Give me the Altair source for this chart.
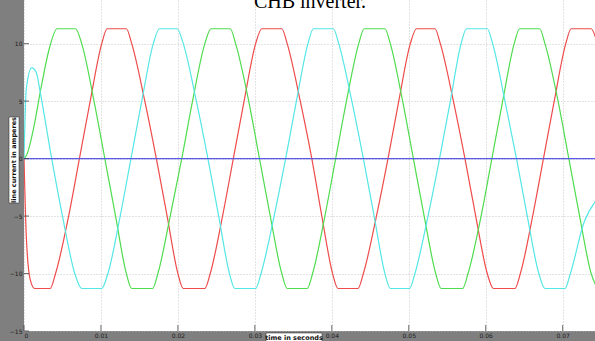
import altair as alt
import pandas as pd

# Phase currents of the CHB inverter (time in s, current in A)
t_red = [0, 0.0003, 0.0008, 0.0014, 0.0034, 0.0041, 0.0058, 0.0072, 0.0086, 0.0101, 0.0108,
         0.0133, 0.0140, 0.0157, 0.0172, 0.0186, 0.0200, 0.0207, 0.0235, 0.0242, 0.0258,
         0.0272, 0.0286, 0.0301, 0.0309, 0.0335, 0.0342, 0.0359, 0.0374, 0.0387, 0.0401,
         0.0408, 0.0434, 0.0441, 0.0458, 0.0473, 0.0487, 0.0502, 0.0510, 0.0534, 0.0541,
         0.0558, 0.0573, 0.0587, 0.0602, 0.0610, 0.0638, 0.0645, 0.0661, 0.0675, 0.0689,
         0.0704, 0.0711, 0.0737, 0.0745]
i_red = [0, -6.8, -10.5, -11.3, -11.3, -10, -5, 0, 5, 10, 11.3,
         11.3, 10, 5, 0, -5, -10, -11.3, -11.3, -10, -5,
         0, 5, 10, 11.3, 11.3, 10, 5, 0, -5, -10,
         -11.3, -11.3, -10, -5, 0, 5, 10, 11.3, 11.3, 10,
         5, 0, -5, -10, -11.3, -11.3, -10, -5, 0, 5,
         10, 11.3, 11.3, 10]

t_green = [0, 0.0004, 0.0012, 0.0022, 0.0033, 0.0043, 0.0067, 0.0075, 0.0091, 0.0105, 0.0119,
           0.0133, 0.0140, 0.0167, 0.0174, 0.0190, 0.0205, 0.0219, 0.0235, 0.0243, 0.0268,
           0.0275, 0.0292, 0.0306, 0.0320, 0.0335, 0.0342, 0.0368, 0.0375, 0.0391, 0.0405,
           0.0419, 0.0435, 0.0442, 0.0469, 0.0476, 0.0492, 0.0506, 0.0520, 0.0535, 0.0542,
           0.0570, 0.0577, 0.0594, 0.0608, 0.0622, 0.0637, 0.0644, 0.0670, 0.0677, 0.0694,
           0.0708, 0.0722, 0.0737, 0.0745]
i_green = [0, 0.4, 2.5, 6.1, 9.6, 11.3, 11.3, 10, 5, 0, -5,
           -10, -11.3, -11.3, -10, -5, 0, 5, 10, 11.3, 11.3,
           10, 5, 0, -5, -10, -11.3, -11.3, -10, -5, 0,
           5, 10, 11.3, 11.3, 10, 5, 0, -5, -10, -11.3,
           -11.3, -10, -5, 0, 5, 10, 11.3, 11.3, 10, 5,
           0, -5, -10, -11.3]

t_cyan = [0, 0.0003, 0.0010, 0.0016, 0.0021, 0.0036, 0.0050, 0.0066, 0.0075, 0.0101, 0.0109,
          0.0125, 0.0139, 0.0153, 0.0168, 0.0176, 0.0199, 0.0207, 0.0224, 0.0239, 0.0253,
          0.0267, 0.0274, 0.0301, 0.0308, 0.0325, 0.0340, 0.0354, 0.0369, 0.0376, 0.0402,
          0.0409, 0.0426, 0.0441, 0.0455, 0.0469, 0.0476, 0.0501, 0.0508, 0.0525, 0.0540,
          0.0554, 0.0568, 0.0575, 0.0602, 0.0609, 0.0625, 0.0640, 0.0654, 0.0669, 0.0677,
          0.0703, 0.0710, 0.0728, 0.0745]
i_cyan = [0, 6.1, 7.9, 7.5, 5.8, 0, -5, -10, -11.3, -11.3, -10,
          -5, 0, 5, 10, 11.3, 11.3, 10, 5, 0, -5,
          -10, -11.3, -11.3, -10, -5, 0, 5, 10, 11.3, 11.3,
          10, 5, 0, -5, -10, -11.3, -11.3, -10, -5, 0,
          5, 10, 11.3, 11.3, 10, 5, 0, -5, -10, -11.3,
          -11.3, -10, -5.5, -3.5]

t_blue = [0, 0.0745]
i_blue = [0, 0]

x_ticks = [0, 0.01, 0.02, 0.03, 0.04, 0.05, 0.06, 0.07]
y_ticks = [-15, -10, -5, 0, 5, 10]

phases = ["red", "green", "cyan", "blue"]
colors = ["#ee4b4b", "#4fdc4f", "#55e6e6", "#5a5ae6"]

rows = []
for name, ts, vs in [("red", t_red, i_red), ("green", t_green, i_green),
                     ("cyan", t_cyan, i_cyan), ("blue", t_blue, i_blue)]:
    for t, v in zip(ts, vs):
        rows.append({"phase": name, "t": t, "i": v})
df = pd.DataFrame(rows)

x_scale = alt.Scale(domain=[0, 0.0742], nice=False, zero=False)
y_scale = alt.Scale(domain=[-15, 13.8], nice=False, zero=False)

x_axis = alt.Axis(
    values=x_ticks, title=None, grid=True, gridColor="#b8b8b8", gridDash=[1, 2],
    gridWidth=0.8, ticks=False, domain=False, labelFontSize=6, labelColor="#1a1a1a",
    labelFont="DejaVu Sans", labelPadding=1,
    labelExpr="datum.value == 0 ? '0' : format(datum.value, '.2f')")
y_axis = alt.Axis(
    values=y_ticks, title=None, grid=True, gridColor="#b8b8b8", gridDash=[1, 2],
    gridWidth=0.8, ticks=False, domain=False, labelFontSize=6, labelColor="#1a1a1a",
    labelFont="DejaVu Sans", labelPadding=2)

lines = alt.Chart(df).mark_line(strokeWidth=1.2, clip=True, interpolate="monotone").encode(
    x=alt.X("t:Q", scale=x_scale, axis=x_axis),
    y=alt.Y("i:Q", scale=y_scale, axis=y_axis),
    color=alt.Color("phase:N", scale=alt.Scale(domain=phases, range=colors), legend=None),
    detail="phase:N",
)

# Inward tick marks along the bottom and left edges
xtick_df = pd.DataFrame({"t": x_ticks})
ytick_df = pd.DataFrame({"i": y_ticks})
xticks = alt.Chart(xtick_df).mark_rule(color="#444444", strokeWidth=0.8).encode(
    x=alt.X("t:Q", scale=x_scale, axis=x_axis), y=alt.value(331), y2=alt.value(325))
yticks = alt.Chart(ytick_df).mark_rule(color="#444444", strokeWidth=0.8).encode(
    y=alt.Y("i:Q", scale=y_scale, axis=y_axis), x=alt.value(0), x2=alt.value(5))

one = pd.DataFrame({"k": [0]})
ybox = alt.Chart(one).mark_rect(fill="white", stroke="#222222", strokeWidth=0.5).encode(
    x=alt.value(-15), x2=alt.value(-5), y=alt.value(117), y2=alt.value(203))
ylab = alt.Chart(one).mark_text(angle=270, fontSize=6.5, fontWeight="bold", color="#111111",
                                font="DejaVu Sans").encode(
    x=alt.value(-10), y=alt.value(160), text=alt.value("line current in amperes"))
xbox = alt.Chart(one).mark_rect(fill="white", stroke="#222222", strokeWidth=0.5).encode(
    x=alt.value(242), x2=alt.value(298), y=alt.value(333), y2=alt.value(342))
xlab = alt.Chart(one).mark_text(fontSize=6.5, fontWeight="bold", color="#111111",
                                font="DejaVu Sans").encode(
    x=alt.value(270), y=alt.value(338), text=alt.value("time in seconds"))
title = alt.Chart(one).mark_text(fontSize=20, font="Liberation Serif", color="#000000",
                                 baseline="alphabetic", align="center").encode(
    x=alt.value(286), y=alt.value(8), text=alt.value("CHB inverter."))

chart = alt.layer(lines, xticks, yticks, ybox, ylab, xbox, xlab, title).properties(
    width=571, height=331,
    padding={"left": 24, "top": 0, "right": 0, "bottom": 10},
    autosize=alt.AutoSizeParams(type="none"),
    background="#7f7f7f",
).configure_view(fill="white", strokeWidth=0)

chart.save("out.html", embed_options={"renderer": "svg", "actions": False})
